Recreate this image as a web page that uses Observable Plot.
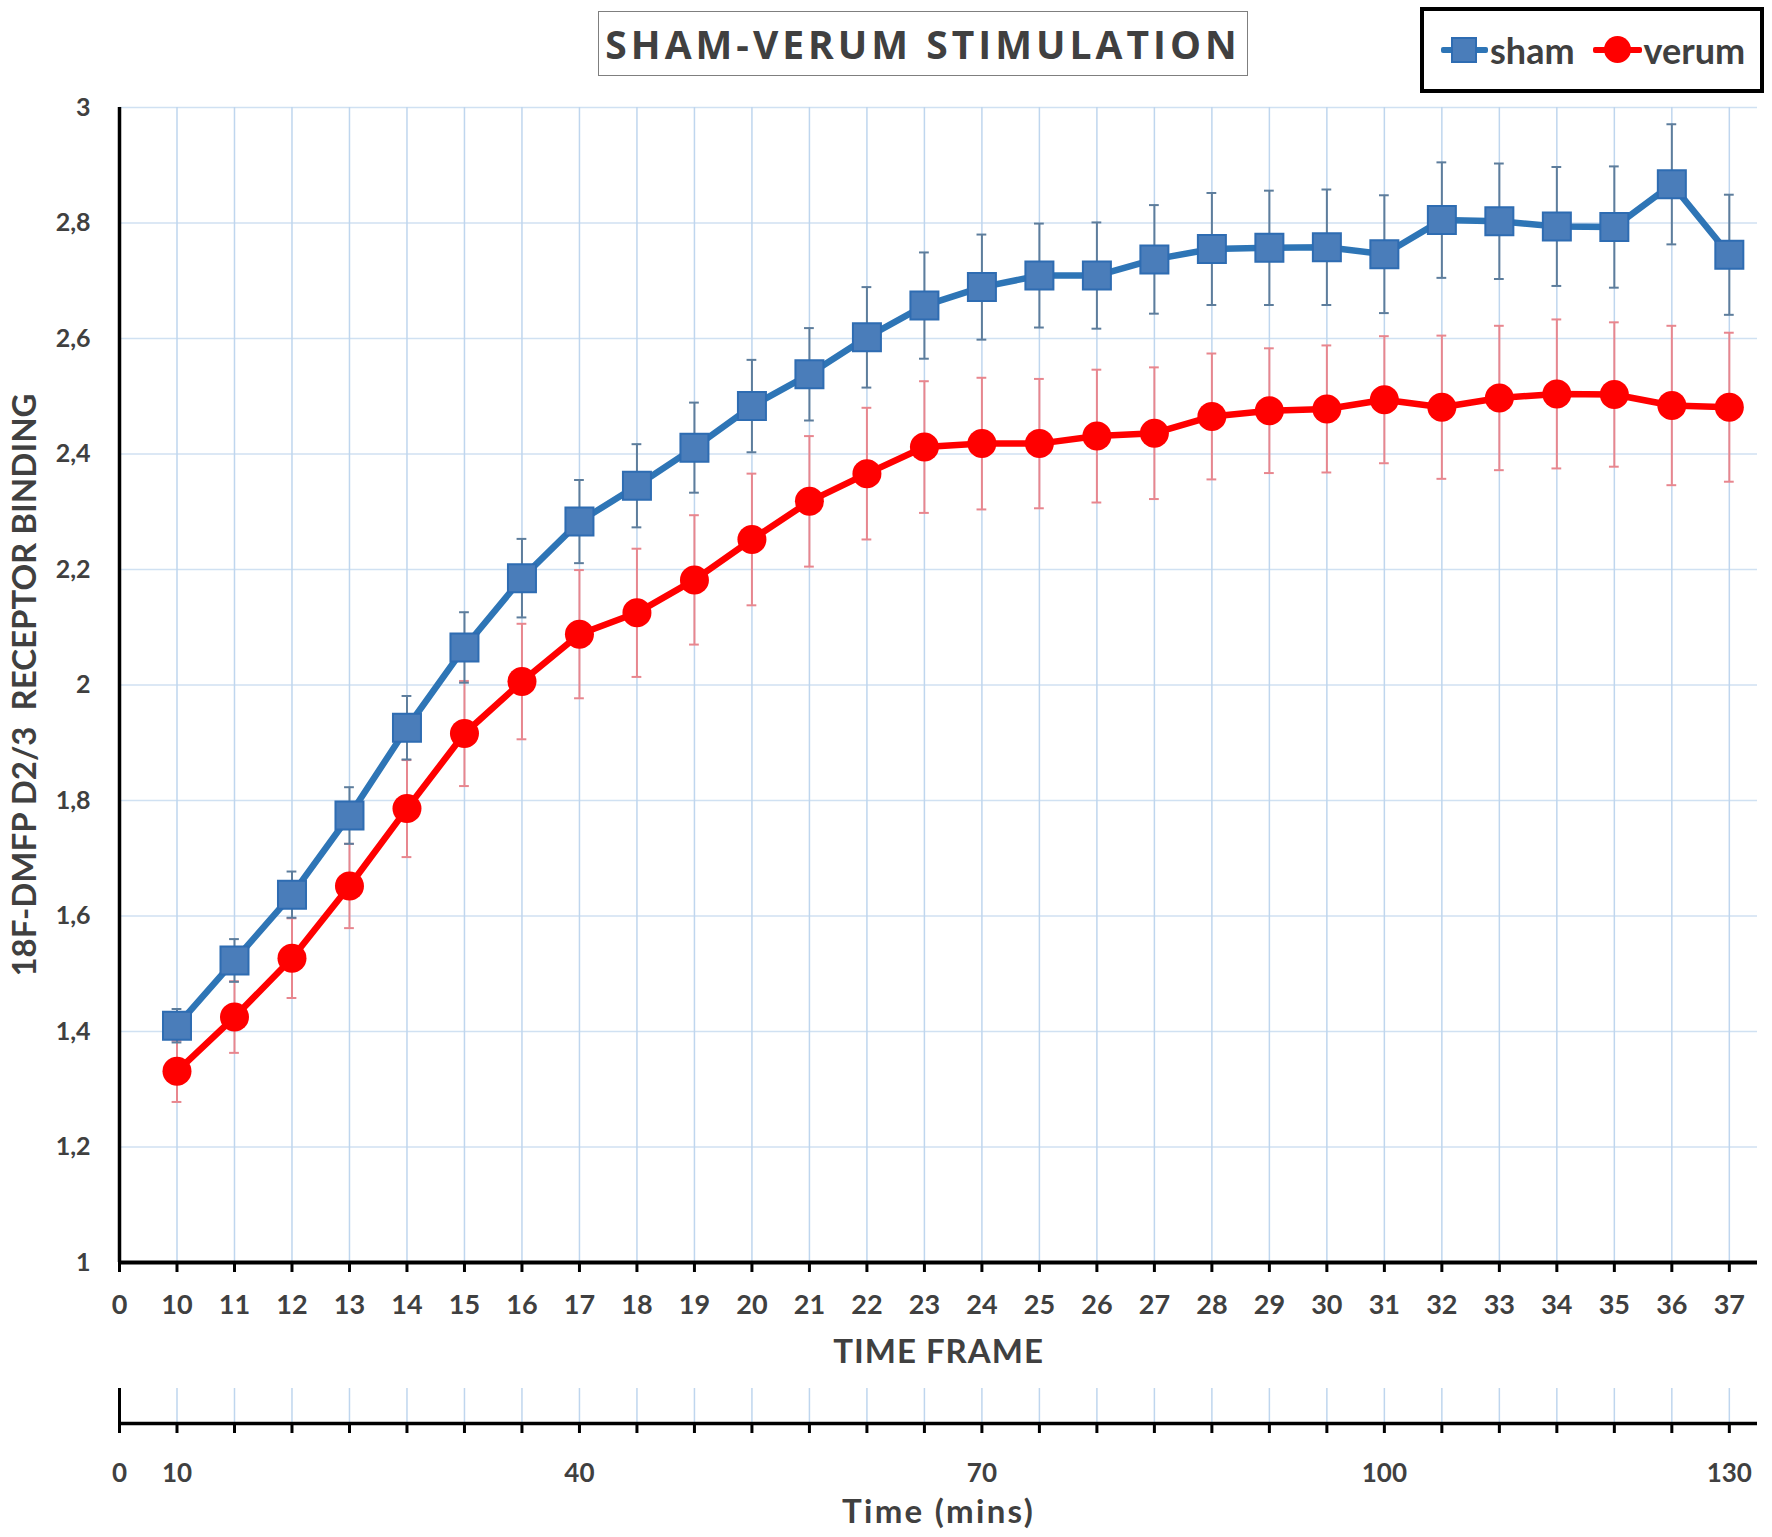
<!DOCTYPE html>
<html><head><meta charset="utf-8">
<script src="https://cdn.jsdelivr.net/npm/d3@7"></script>
<script src="https://cdn.jsdelivr.net/npm/@observablehq/plot@0.6"></script>
<style>
html,body{margin:0;padding:0;background:#fff;}
#wrap{position:relative;width:1772px;height:1537px;font-family:Lato,sans-serif;overflow:hidden;}
#main{position:absolute;left:0;top:0;}
#time{position:absolute;left:0;top:1380px;}
#title{position:absolute;left:598px;top:11px;width:650px;height:65px;box-sizing:border-box;border:1.5px solid #7f7f7f;background:#fff;
  display:flex;align-items:center;justify-content:center;font-weight:bold;font-size:39px;color:#404040;letter-spacing:4px;font-family:"Open Sans",Lato,sans-serif;}
#legend{position:absolute;left:1420px;top:7px;width:344px;height:86px;box-sizing:border-box;border:4px solid #000;background:#fff;
  display:flex;align-items:center;padding-left:17px;font-weight:bold;font-size:36px;color:#404040;}
.sym{position:relative;display:inline-block;height:30px;}
.sym .ln{position:absolute;left:0;right:0;top:12px;height:6px;border-radius:2px;}
.sym .mk{position:absolute;top:2px;}
</style>
</head><body>
<div id="wrap">
  <div id="main"></div>
  <div id="time"></div>
  <div id="title">SHAM-VERUM STIMULATION</div>
  <div id="legend">
    <span class="sym" style="width:47px"><span class="ln" style="background:#2e75b6"></span><span class="mk" style="left:10px;width:26px;height:26px;box-sizing:border-box;background:#4a7dba;border:2px solid #2e6cb2"></span></span>
    <span style="margin-left:2px">sham</span>
    <span class="sym" style="width:49px;margin-left:18px"><span class="ln" style="background:#ff0000"></span><span class="mk" style="left:11px;top:1px;width:27px;height:27px;border-radius:50%;background:#ff0000"></span></span>
    <span style="margin-left:2px">verum</span>
  </div>
</div>
<script>
// ---- data ----
const frames = [10,11,12,13,14,15,16,17,18,19,20,21,22,23,24,25,26,27,28,29,30,31,32,33,34,35,36,37];
const shamMean = [1.410,1.523,1.637,1.774,1.926,2.065,2.185,2.283,2.345,2.411,2.483,2.538,2.602,2.657,2.689,2.709,2.709,2.737,2.755,2.757,2.758,2.746,2.805,2.803,2.794,2.793,2.867,2.745];
const shamErr  = [0.029,0.037,0.040,0.049,0.055,0.061,0.068,0.072,0.072,0.078,0.080,0.080,0.087,0.092,0.091,0.090,0.092,0.094,0.097,0.099,0.100,0.102,0.100,0.100,0.103,0.105,0.104,0.104];
const verumMean = [1.331,1.425,1.527,1.652,1.786,1.916,2.006,2.088,2.125,2.182,2.252,2.318,2.366,2.412,2.418,2.418,2.431,2.436,2.465,2.475,2.478,2.494,2.481,2.497,2.504,2.503,2.484,2.481];
const verumErr  = [0.053,0.062,0.069,0.073,0.084,0.091,0.100,0.111,0.111,0.112,0.114,0.113,0.114,0.114,0.114,0.112,0.115,0.114,0.109,0.108,0.110,0.110,0.124,0.125,0.129,0.125,0.138,0.129];
const xCategories = ["0","10","11","12","13","14","15","16","17","18","19","20","21","22","23","24","25","26","27","28","29","30","31","32","33","34","35","36","37"];
const yTicks = [1,1.2,1.4,1.6,1.8,2,2.2,2.4,2.6,2.8,3];
const timeTickFrames = ["0","10","17","24","31","37"];
const timeTickLabels = ["0","10","40","70","100","130"];
const yLabel = "18F-DMFP D2/3  RECEPTOR BINDING";
const xLabel = "TIME FRAME";
const timeLabel = "Time (mins)";

// ---- build tables ----
const sham = frames.map((f,i)=>({frame:f, m:shamMean[i], e:shamErr[i]}));
const verum = frames.map((f,i)=>({frame:f, m:verumMean[i], e:verumErr[i]}));
const X = d => xCategories.indexOf(String(d.frame));
const idx = xCategories.map((c,i)=>i);
const xDomain = [0, 28.49];
const textColor = "#404040";
const capHalf = 0.085;

function errMarks(data, color){
  return [
    Plot.ruleX(data, {x:X, y1:d=>d.m-d.e, y2:d=>d.m+d.e, stroke:color, strokeWidth:2}),
    Plot.ruleY(data, {x1:d=>X(d)-capHalf, x2:d=>X(d)+capHalf, y:d=>d.m+d.e, stroke:color, strokeWidth:2}),
    Plot.ruleY(data, {x1:d=>X(d)-capHalf, x2:d=>X(d)+capHalf, y:d=>d.m-d.e, stroke:color, strokeWidth:2})
  ];
}

function spaceText(svg, label, spacing){
  svg.querySelectorAll("text").forEach(t => {
    if (t.textContent === label) t.setAttribute("letter-spacing", spacing);
  });
}

const main = Plot.plot({
  width:1772, height:1380,
  marginLeft:119, marginRight:15, marginTop:107, marginBottom:118,
  x:{domain:xDomain}, y:{domain:[1,3]},
  style:{fontFamily:"Lato, sans-serif", background:"transparent", overflow:"visible"},
  marks:[
    Plot.gridY({ticks:yTicks.slice(1), stroke:"#d0e1f2", strokeOpacity:1, strokeWidth:1.5}),
    Plot.gridX({ticks:idx.slice(1), stroke:"#bfd6ee", strokeOpacity:1, strokeWidth:1.5}),
    Plot.axisY({ticks:yTicks, tickFormat:d=>String(d).replace(".", ","), tickSize:0, tickPadding:29,
      fontSize:25, fontWeight:"bold", fill:textColor, label:null}),
    Plot.axisX({ticks:idx, tickFormat:i=>xCategories[i], tickSize:10, tickPadding:22, stroke:"black", strokeWidth:3,
      fontSize:27, fontWeight:"bold", fill:textColor, label:null}),
    Plot.text([xLabel], {frameAnchor:"bottom", lineAnchor:"middle", dy:90, fontSize:33, fontWeight:"bold", fill:textColor}),
    Plot.text([yLabel], {frameAnchor:"left", textAnchor:"middle", lineAnchor:"middle", rotate:-90, dx:-94, fontSize:33,
      fontWeight:"bold", fill:textColor}),
    ...errMarks(verum, "#e8868e"),
    ...errMarks(sham, "#5d7d9c"),
    Plot.line(verum, {x:X, y:"m", stroke:"#ff0000", strokeWidth:6.5}),
    Plot.line(sham, {x:X, y:"m", stroke:"#2e75b6", strokeWidth:6.5}),
    Plot.dot(verum, {x:X, y:"m", r:14.5, fill:"#ff0000"}),
    Plot.dot(sham, {x:X, y:"m", symbol:"square", r:15.8, fill:"#4a7dba", stroke:"#2e6cb2", strokeWidth:2}),
    Plot.ruleX([0], {stroke:"black", strokeWidth:3.5}),
    Plot.ruleY([1], {stroke:"black", strokeWidth:4})
  ]
});
spaceText(main, xLabel, "1px");
document.getElementById("main").appendChild(main);

const timeAxis = Plot.plot({
  width:1772, height:157,
  marginLeft:119, marginRight:15, marginTop:8, marginBottom:114,
  x:{domain:xDomain}, y:{domain:[0,1], axis:null},
  style:{fontFamily:"Lato, sans-serif", background:"transparent", overflow:"visible"},
  marks:[
    Plot.gridX({ticks:idx.slice(1), stroke:"#bfd6ee", strokeOpacity:1, strokeWidth:1.5}),
    Plot.axisX({ticks:idx, tickFormat:i=>{const k=timeTickFrames.indexOf(xCategories[i]); return k<0?"":timeTickLabels[k];},
      tickSize:10, tickPadding:30, stroke:"black", strokeWidth:3, fontSize:26, fontWeight:"bold", fill:textColor, label:null}),
    Plot.text([timeLabel], {frameAnchor:"bottom", lineAnchor:"middle", dy:89, fontSize:33, fontWeight:"bold", fill:textColor}),
    Plot.ruleX([0], {stroke:"black", strokeWidth:3}),
    Plot.ruleY([0], {stroke:"black", strokeWidth:3.5})
  ]
});
spaceText(timeAxis, timeLabel, "2.3px");
document.getElementById("time").appendChild(timeAxis);
</script>
</body></html>
